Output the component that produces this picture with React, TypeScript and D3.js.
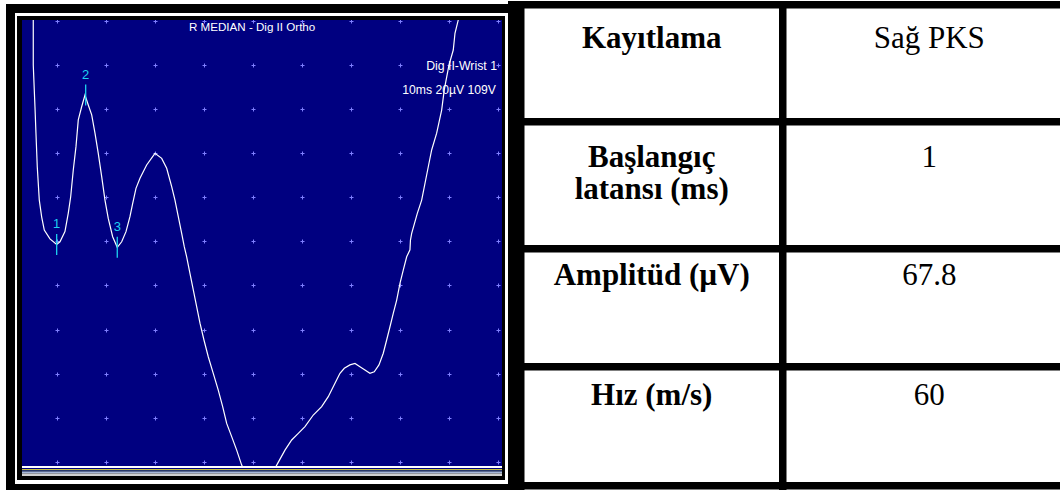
import React from "react";
import * as d3 from "d3";

// ---- EMG trace (time in ms, amplitude in µV) ----
const traceTimes: number[] = [
  -4.8, -4.8, -4.45, -4.25, -3.98, -3.57, -3.08, -2.55, -1.39, -0.02, 0.65, 1.67, 2.35, 2.84, 3.37, 3.92,
  4.39, 5.08, 5.76, 6.43, 7.13, 7.8, 8.47, 9.17, 9.84, 10.51, 11.41, 12.35, 13.25, 14.13, 14.94, 15.5,
  16.17, 16.99, 18.35, 20.05, 21.42, 22.44, 23.46, 24.13, 24.81, 25.5, 26.03, 26.52, 27.19, 27.87, 28.56,
  29.24, 30.05, 30.93, 31.95, 32.97, 33.87, 34.69, 35.71, 36.73, 37.75, 41.3, 44.9, 46.59, 47.96, 49.31,
  50.67, 52.37, 54.08, 55.43, 56.8, 57.82, 58.7, 59.86, 60.88, 61.9, 62.92, 63.94, 64.82, 65.78, 66.66,
  67.35, 68.03, 68.7, 69.4, 70.07, 70.74, 71.44, 72.11, 72.21, 72.46, 73.61, 74.5, 75.85, 76.54, 77.56,
  78.58, 79.11, 80.07, 80.95, 81.3, 81.97, 82.22,
];
const traceAmps: number[] = [
  104.0, 79.9, 60.9, 49.1, 33.7, 18.7, 11.0, 5.1, 1.1, -1.4, -0.2, 4.4, 12.8, 20.2, 32.3, 42.9,
  55.0, 61.0, 66.3, 61.8, 57.3, 49.0, 39.9, 29.3, 18.7, 10.4, 2.1, -2.7, -0.2, 4.4, 11.2, 17.2,
  24.0, 28.6, 34.6, 39.9, 37.6, 33.1, 24.8, 18.7, 11.2, 3.6, -2.4, -7.0, -14.5, -22.0, -29.6,
  -37.1, -44.7, -52.3, -59.8, -67.4, -74.9, -82.5, -88.5, -94.6, -101.4, -116.0, -101.4, -94.6, -90.0, -87.0,
  -84.0, -78.7, -74.9, -70.4, -64.3, -59.8, -57.5, -56.0, -55.3, -56.8, -58.3, -59.8, -59.1, -56.0, -50.7,
  -44.7, -38.7, -32.6, -26.6, -19.0, -13.0, -7.0, -3.8, 0.6, 3.6, 12.7, 18.7, 33.8, 41.4, 49.0,
  59.5, 68.6, 79.9, 86.7, 94.3, 100.3, 104.8,
];

const markerLabels = ["1", "2", "3"];
const markerTimes = [-0.02, 5.9, 12.35];
const markerAmps = [-1.4, 66.3, -2.7];

const gridTimes = [0, 10, 20, 30, 40, 50, 60, 70, 80, 90];
const gridAmps = [-100, -80, -60, -40, -20, 0, 20, 40, 60, 80, 100];

const chartTitle = "R MEDIAN - Dig II Ortho";
const traceLabel = "Dig II-Wrist 1";
const settingsLabel = "10ms 20µV 109V";

// ---- table ----
const tableHeads: string[][] = [["Kayıtlama"], ["Başlangıç", "latansı (ms)"], ["Amplitüd (µV)"], ["Hız (m/s)"]];
const tableValues = ["Sağ PKS", "1", "67.8", "60"];

const SERIF = "'Liberation Serif', 'Times New Roman', serif";
const SANS = "'Liberation Sans', Arial, sans-serif";

export default function App() {
  const x = d3.scaleLinear().domain([-7.1, 90.9]).range([22, 502]);
  const y = d3.scaleLinear().domain([100.3, -101.8]).range([20, 466]);
  const line = d3
    .line<number>()
    .x((_, i) => x(traceTimes[i]))
    .y((_, i) => y(traceAmps[i]));
  const tracePath = line(traceTimes) || "";

  const crosses: JSX.Element[] = [];
  gridTimes.forEach((t, i) =>
    gridAmps.forEach((a, j) => {
      const cx = Math.round(x(t)) + 0.5;
      const cy = Math.round(y(a)) + 0.5;
      crosses.push(
        <path
          key={`c${i}-${j}`}
          d={`M${cx - 2},${cy}H${cx + 2}M${cx},${cy - 2}V${cy + 2}`}
          stroke="#8080ff"
          strokeWidth={1}
          fill="none"
        />
      );
    })
  );

  // table layout
  const rowTops = [1, 118, 245, 363, 482];
  const border = 7.5;
  const tLeft = 517;
  const colDiv = 779;
  const tRight = 1072;
  const col1C = (tLeft + border + colDiv) / 2;
  const col2C = (colDiv + border + tRight) / 2;
  const headBaselines = [[48], [167, 199], [285], [405]];
  const valBaselines = [48, 167, 285, 405];

  return (
    <svg
      width={1060}
      height={490}
      style={{ position: "absolute", left: 0, top: 0, display: "block", background: "#fff" }}
    >
      <defs>
        <clipPath id="plotClip">
          <rect x={22} y={20} width={480} height={446} />
        </clipPath>
      </defs>
      {/* chart frame */}
      <rect x={6} y={4} width={511} height={486} fill="#000" />
      <rect x={15} y={13} width={493} height={471} fill="#fff" />
      <rect x={17} y={16} width={488} height={464} fill="#000" />
      <rect x={22} y={20} width={480} height={446} fill="#000080" />
      <g clipPath="url(#plotClip)">{crosses}</g>
      <g clipPath="url(#plotClip)">
        <path d={tracePath} fill="none" stroke="#fff" strokeWidth={1.2} />
      </g>
      {/* markers */}
      {markerLabels.map((m, i) => {
        const mx = x(markerTimes[i]);
        const my = y(markerAmps[i]);
        return (
          <g key={m}>
            <line x1={mx} x2={mx} y1={my - 10.5} y2={my + 10.5} stroke="#1ed2f0" strokeWidth={1.3} />
            <text x={mx} y={my - 16.5} fill="#1ed2f0" fontFamily={SANS} fontSize={13} textAnchor="middle">
              {m}
            </text>
          </g>
        );
      })}
      <text x={189} y={31} fill="#fff" fontFamily={SANS} fontSize={11.6}>
        {chartTitle}
      </text>
      <text x={497} y={70} fill="#fff" fontFamily={SANS} fontSize={12.3} textAnchor="end">
        {traceLabel}
      </text>
      <text x={496} y={94} fill="#fff" fontFamily={SANS} fontSize={12.2} textAnchor="end">
        {settingsLabel}
      </text>
      {/* bottom stripes */}
      <rect x={22} y={466} width={480} height={2} fill="#ffffff" />
      <rect x={22} y={468} width={480} height={1} fill="#000080" />
      <rect x={22} y={469} width={480} height={1.3} fill="#c8c040" />
      <rect x={22} y={470.3} width={480} height={1.2} fill="#203890" />
      <rect x={22} y={471.5} width={480} height={2} fill="#a8b8d8" />
      <rect x={22} y={473.5} width={480} height={2.5} fill="#cfcfcf" />

      {/* table */}
      {rowTops.map((t, i) => (
        <rect key={`h${i}`} x={tLeft} y={t} width={tRight - tLeft} height={border} fill="#000" />
      ))}
      <rect x={508} y={rowTops[0]} width={tLeft + border - 508} height={490 - rowTops[0]} fill="#000" />
      <rect x={colDiv} y={rowTops[0]} width={border} height={490 - rowTops[0]} fill="#000" />
      {tableHeads.map((lines, i) =>
        lines.map((ln, k) => (
          <text
            key={`t${i}-${k}`}
            x={col1C}
            y={headBaselines[i][k]}
            fontFamily={SERIF}
            fontWeight="bold"
            fontSize={31}
            textAnchor="middle"
            fill="#000"
          >
            {ln}
          </text>
        ))
      )}
      {tableValues.map((v, i) => (
        <text
          key={`v${i}`}
          x={col2C}
          y={valBaselines[i]}
          fontFamily={SERIF}
          fontSize={31}
          textAnchor="middle"
          fill="#000"
        >
          {v}
        </text>
      ))}
    </svg>
  );
}
